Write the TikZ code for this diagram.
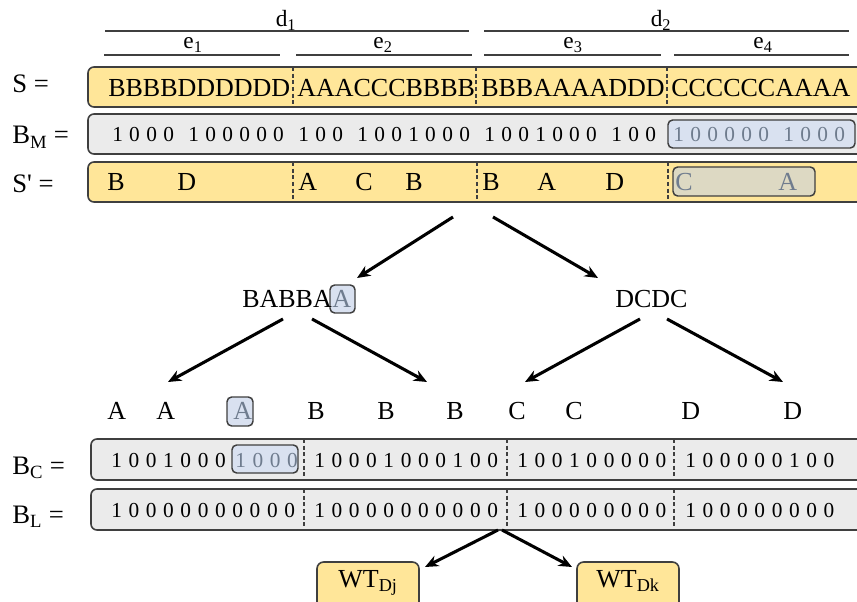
\documentclass[tikz,border=0pt]{standalone}
\usepackage{fontspec}
\setmainfont{Liberation Serif}
\usetikzlibrary{arrows.meta}

\definecolor{seqfill}{HTML}{FFE699}
\definecolor{bitfill}{HTML}{EBEBEB}
\definecolor{hlblue}{HTML}{D9E1F0}
\definecolor{hlolive}{HTML}{DDD9C3}
\definecolor{hltext}{HTML}{6F7C8E}
\definecolor{edge}{HTML}{3F3F3F}

\newcommand\mainsz{\fontsize{19.5pt}{22pt}\selectfont}
\newcommand\bitsz{\fontsize{16pt}{18pt}\selectfont}
\newcommand\labsz{\fontsize{17.5pt}{20pt}\selectfont}
\newcommand\rowsz{\fontsize{20pt}{22pt}\selectfont}

% evenly spaced bit strings; a '.' inserts a small gap
\newlength\bitpitch
\newlength\bitgap
\setlength\bitgap{6pt}
\makeatletter
\def\bitseq#1{\bit@aux#1\relax}
\def\bit@aux#1{\ifx#1\relax\else\ifx#1.\hspace*{\bitgap}\else\makebox[\bitpitch][l]{#1}\fi\expandafter\bit@aux\fi}
\makeatother
\newcommand\bitsM[1]{{\setlength\bitpitch{12.75pt}\bitsz\bitseq{#1}}}
\newcommand\bitsC[1]{{\setlength\bitpitch{12.98pt}\bitsz\bitseq{#1}}}

\tikzset{
  rowbox/.style={draw=edge, line width=1.2pt, rounded corners=4.5pt},
  seqbox/.style={rowbox, fill=seqfill},
  bitbox/.style={rowbox, fill=bitfill},
  hlbox/.style={draw=edge, line width=1.1pt, rounded corners=3.5pt, fill=hlblue},
  hlolivebox/.style={hlbox, fill=hlolive},
  sep/.style={draw=edge, line width=0.8pt, dash pattern=on 3pt off 2pt},
  rule/.style={draw=edge, line width=0.9pt},
  txt/.style={inner sep=0pt, anchor=base west, font=\mainsz},
  grey/.style={txt, text=hltext},
  bits/.style={inner sep=0pt, anchor=base west},
  lab/.style={inner sep=0pt, anchor=base, font=\labsz},
  rowlab/.style={inner sep=0pt, anchor=base west, font=\rowsz},
  arr/.style={line width=2.3pt, -{Stealth[length=10pt, width=8.5pt]}},
  wtbox/.style={seqbox, rounded corners=5pt},
}

\begin{document}
\begin{tikzpicture}[x=0.75pt, y=-0.75pt]
\clip (0,0) rectangle (857,602);

% document and element ranges
\draw[rule] (105,31) -- (469,31);
\draw[rule] (484,31) -- (849,31);
\draw[rule] (104,55) -- (280,55);
\draw[rule] (296,55) -- (472,55);
\draw[rule] (484,55) -- (661,55);
\draw[rule] (674,55) -- (849,55);
\node[lab] (d1) at (286,27) {d\textsubscript{1}};
\node[lab] (d2) at (661,27) {d\textsubscript{2}};
\node[lab] (e1) at (193,49) {e\textsubscript{1}};
\node[lab] (e2) at (383,49) {e\textsubscript{2}};
\node[lab] (e3) at (573,49) {e\textsubscript{3}};
\node[lab] (e4) at (763,49) {e\textsubscript{4}};

% row labels
\node[rowlab] (lS)  at (12,93)  {S =};
\node[rowlab] (lBM) at (12,144) {B\textsubscript{M} =};
\node[rowlab] (lSp) at (12,193) {S\textquotesingle{} =};
\node[rowlab] (lBC) at (12,474) {B\textsubscript{C} =};
\node[rowlab] (lBL) at (12,523) {B\textsubscript{L} =};

% S
\draw[seqbox] (88,67) rectangle (880,107);
\foreach \x in {293,476,667} \draw[sep] (\x,67) -- (\x,107);
\node[txt] (s1) at (108,97) {BBBBDDDDDD};
\node[txt] (s2) at (297,97) {AAACCCBBBB};
\node[txt] (s3) at (481,97) {BBBAAAADDD};
\node[txt] (s4) at (671,97) {CCCCCCAAAA};

% B_M
\draw[bitbox] (88,114) rectangle (880,154);
\node[bits] (bm) at (112,142) {\bitsM{1000.100000.100.1001000.1001000.100}};
\draw[hlbox] (668,120) rectangle (855,148);
\node[bits, text=hltext] (bmh) at (673,142) {\bitsM{100000.1000}};

% S'
\draw[seqbox] (88,162) rectangle (880,202);
\foreach \x in {293,477,668} \draw[sep] (\x,162) -- (\x,202);
\draw[hlolivebox] (673,167) rectangle (815,196);
\node[txt] (p1) at (107,191) {B};
\node[txt] (p2) at (177,191) {D};
\node[txt] (p3) at (298,191) {A};
\node[txt] (p4) at (355,191) {C};
\node[txt] (p5) at (405,191) {B};
\node[txt] (p6) at (482,191) {B};
\node[txt] (p7) at (537,191) {A};
\node[txt] (p8) at (605,191) {D};
\node[grey] (p9) at (675,191) {C};
\node[grey] (p10) at (778,191) {A};

% first split
\coordinate (r0) at (453,217);
\coordinate (r1) at (493,217);
\draw[hlbox] (330,285) rectangle (355,313);
\node[txt] (left) at (242,308) {BABBA};
\node[grey] (lefth) at (332,308) {A};
\node[txt] (right) at (615,308) {DCDC};
\coordinate (lt) at (357,278);
\coordinate (rt) at (598,278);
\draw[arr] (r0) -- (lt);
\draw[arr] (r1) -- (rt);

% second split
\coordinate (l0) at (283,319);
\coordinate (l1) at (312,319);
\coordinate (r2) at (640,319);
\coordinate (r3) at (667,319);
\coordinate (ll) at (168,382);
\coordinate (lr) at (427,382);
\coordinate (rl) at (525,382);
\coordinate (rr) at (783,382);
\draw[arr] (l0) -- (ll);
\draw[arr] (l1) -- (lr);
\draw[arr] (r2) -- (rl);
\draw[arr] (r3) -- (rr);

% leaves
\draw[hlbox] (227,397) rectangle (253,426);
\node[txt] (a1) at (107,419) {A};
\node[txt] (a2) at (156,419) {A};
\node[grey] (a3) at (233,419) {A};
\node[txt] (b1) at (307,419) {B};
\node[txt] (b2) at (377,419) {B};
\node[txt] (b3) at (446,419) {B};
\node[txt] (c1) at (508,419) {C};
\node[txt] (c2) at (565,419) {C};
\node[txt] (dd1) at (681,419) {D};
\node[txt] (dd2) at (783,419) {D};

% B_C
\draw[bitbox] (91,439) rectangle (880,480);
\foreach \x in {304,507,674} \draw[sep] (\x,439) -- (\x,480);
\draw[hlbox] (232,445) rectangle (298,473);
\node[bits] (bc1) at (111,467) {\bitsC{1001000}};
\node[bits, text=hltext] (bc1h) at (235,467) {\bitsC{1000}};
\node[bits] (bc2) at (314,467) {\bitsC{10001000100}};
\node[bits] (bc3) at (517,467) {\bitsC{100100000}};
\node[bits] (bc4) at (685,467) {\bitsC{100000100}};

% B_L
\draw[bitbox] (91,489) rectangle (880,530);
\foreach \x in {304,507,674} \draw[sep] (\x,489) -- (\x,530);
\node[bits] (bl1) at (111,517) {\bitsC{10000000000}};
\node[bits] (bl2) at (314,517) {\bitsC{10000000000}};
\node[bits] (bl3) at (517,517) {\bitsC{100000000}};
\node[bits] (bl4) at (685,517) {\bitsC{100000000}};

% wavelet trees
\draw[wtbox] (317,562) rectangle (419,620);
\draw[wtbox] (577,562) rectangle (679,620);
\node[lab, font=\mainsz] (wtj) at (368,587) {WT\textsubscript{Dj}};
\node[lab, font=\mainsz] (wtk) at (628,587) {WT\textsubscript{Dk}};
\coordinate (w0) at (498,530);
\coordinate (w1) at (502,530);
\coordinate (wj) at (425,567);
\coordinate (wk) at (572,567);
\draw[arr] (w0) -- (wj);
\draw[arr] (w1) -- (wk);
\end{tikzpicture}
\end{document}
